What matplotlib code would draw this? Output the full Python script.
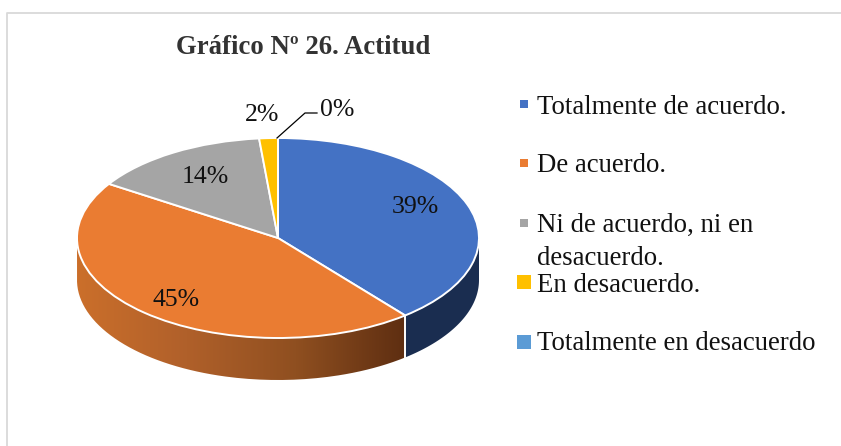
import numpy as np
import matplotlib
matplotlib.use("Agg")
import matplotlib.pyplot as plt
from matplotlib.patches import PathPatch, Rectangle
from matplotlib.path import Path
from matplotlib.colors import LinearSegmentedColormap

plt.rcParams['font.family'] = ['Liberation Serif']

# values
categories = ["Totalmente de acuerdo.", "De acuerdo.", "Ni de acuerdo, ni en\ndesacuerdo.",
              "En desacuerdo.", "Totalmente en desacuerdo"]
shares = [39.1, 45.0, 14.4, 1.5, 0.0]
pct_labels = ["39%", "45%", "14%", "2%", "0%"]
colors = ["#4472c4", "#ea7c32", "#a5a5a5", "#ffc000", "#5b9bd5"]
title = "Gráfico Nº 26. Actitud"

W, H = 841, 446
DEPTH = 0.42  # wall height, in pie radii (vertical)

fig = plt.figure(figsize=(W / 100, H / 100), dpi=100)

# page axes in pixels, y going down
page = fig.add_axes([0, 0, 1, 1])
page.set_xlim(0, W)
page.set_ylim(H, 0)
page.axis("off")

# chart frame, only left and top show
page.plot([7, 7, 841], [446, 12.5, 12.5], color="#d9d9d9", lw=1.3)

# pie axes, unit radius stretched into an ellipse
left, right, top, bottom = 77, 479, 138, 380
pie_ax = fig.add_axes([left / W, 1 - bottom / H, (right - left) / W, (bottom - top) / H])
pie_ax.pie(shares, colors=colors, startangle=90, counterclock=False,
           wedgeprops=dict(edgecolor="white", linewidth=1.4))
pie_ax.set_aspect("auto")
pie_ax.set_xlim(-1, 1)
pie_ax.set_ylim(-1 - DEPTH, 1)
pie_ax.patch.set_alpha(0)


def wall_path(a0, a1):
    # a0, a1 clockwise from 12 o'clock, degrees; visible lower rim only
    t = np.radians(np.linspace(a0, a1, 120))
    x, y = np.sin(t), np.cos(t)
    xs = np.r_[x, x[::-1], x[0]]
    ys = np.r_[y, y[::-1] - DEPTH, y[0]]
    return Path(np.c_[xs, ys])


end_blue = 360 * shares[0] / 100
# navy wall under the blue slice
pie_ax.add_patch(PathPatch(wall_path(90, end_blue), fc="#1a2d50", ec="none", zorder=0.5, clip_on=False))

# orange wall with horizontal gradient
wall = PathPatch(wall_path(end_blue, 270), fc="none", ec="none", transform=pie_ax.transData)
cmap = LinearSegmentedColormap.from_list("wall", ["#cb6f2b", "#b0602a", "#8f4f20", "#5e2e11"])
img = pie_ax.imshow(np.linspace(0, 1, 256)[None, :], cmap=cmap, aspect="auto", zorder=0.5,
                    extent=(-1, np.sin(np.radians(end_blue)), -1 - DEPTH, 1))
img.set_clip_path(wall)
pie_ax.set_xlim(-1, 1)
pie_ax.set_ylim(-1 - DEPTH, 1)

# white seam between the two walls
sx, sy = np.sin(np.radians(end_blue)), np.cos(np.radians(end_blue))
pie_ax.plot([sx, sx], [sy, sy - DEPTH], color="white", lw=1.4, zorder=0.6)

# percentage labels
label_xy = [(415, 207), (176, 300), (205, 177), (262, 115), (337, 110)]
for s, (x, y) in zip(pct_labels, label_xy):
    page.text(x, y, s, fontsize=18.5, ha="center", va="center", color="#111111", zorder=5)

# leader line for the 0% label
page.plot([277, 305, 317], [138, 113, 113], color="black", lw=0.9, zorder=5)

page.set_zorder(3)
page.patch.set_alpha(0)

# legend, by hand to keep the uneven spacing
leg_y = [107, 166, 226, 285, 344]
marker_y = [104, 163, 223, 282, 342]
marker_size = [8, 8, 8, 14, 14]
for name, c, y, my, m in zip(categories, colors, leg_y, marker_y, marker_size):
    page.add_patch(Rectangle((524 - m / 2, my - m / 2), m, m, fc=c, ec="none"))
    if "\n" in name:
        page.text(537, y - 13, name, fontsize=19.3, va="top", ha="left", color="#111111", linespacing=1.42)
    else:
        page.text(537, y, name, fontsize=19.3, va="center", ha="left", color="#111111")

page.text(303.5, 47, title, fontsize=19.3, fontweight="bold", ha="center", va="center", color="#333333")

fig.savefig("out.png", dpi=100)
